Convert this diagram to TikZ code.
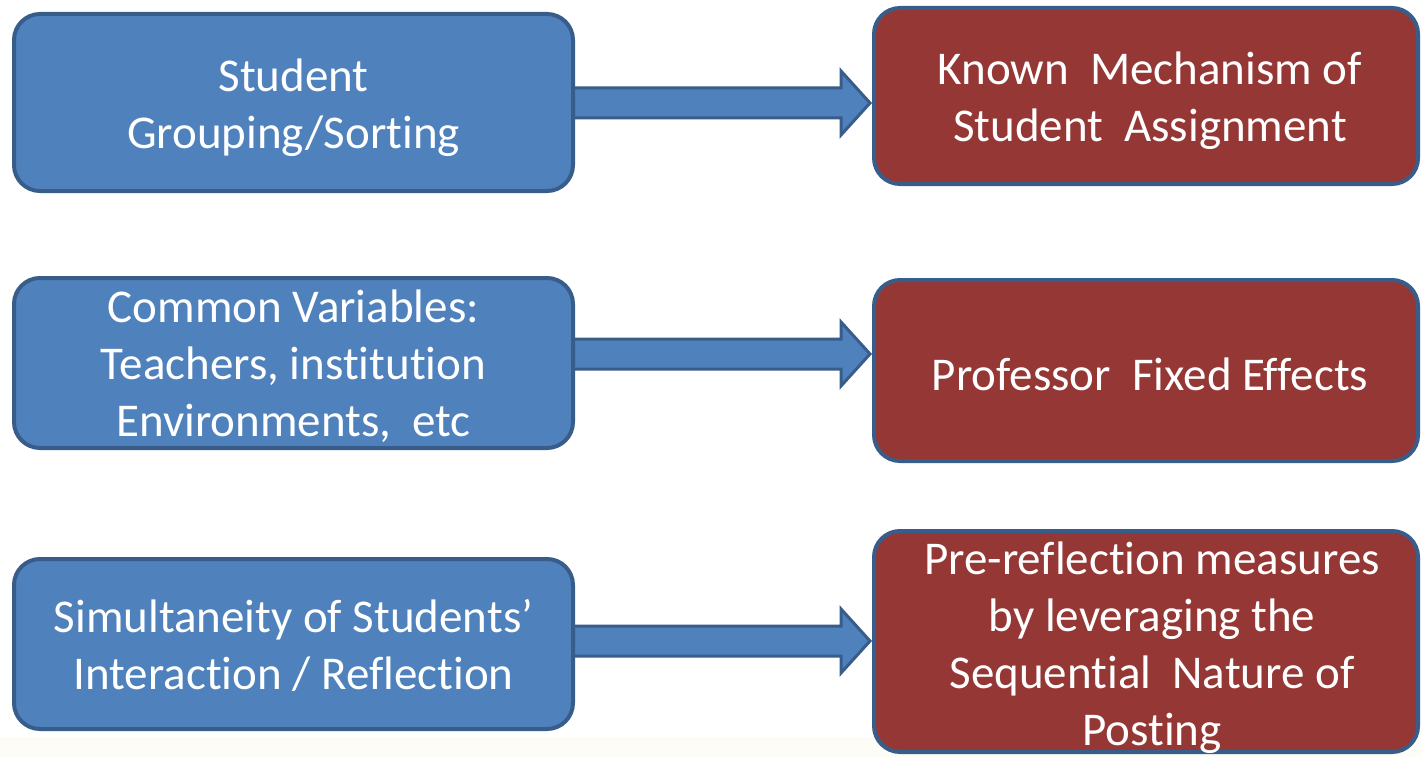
\documentclass[tikz,border=0pt]{standalone}
\usepackage{fontspec}
\setmainfont{Carlito}[RawFeature={-liga;-clig;-dlig;-calt;-rlig}]
\usetikzlibrary{calc,backgrounds}
\definecolor{boxblue}{HTML}{4F81BD}
\definecolor{edgeblue}{HTML}{385D8A}
\definecolor{boxred}{HTML}{953735}
\definecolor{cream}{HTML}{FEFCF6}
\tikzset{
  panel/.style={draw=edgeblue, line width=4pt, rounded corners=26pt, inner sep=0pt},
  causebox/.style={panel, fill=boxblue, minimum width=559pt},
  remedybox/.style={panel, fill=boxred, minimum width=544pt},
  boxtext/.style={text=white, align=center, inner sep=0pt,
    font=\fontsize{47}{57}\selectfont},
  blockarrow/.style={draw=edgeblue, fill=boxblue, line width=3pt, line join=miter},
}
% block arrow from the east side of #1 to the west side of #2 at height #3
\newcommand{\blockarrowdraw}[3]{%
  \path (#1.east |- {0,#3}) coordinate (s) (#2.west |- {0,#3}) coordinate (e);
  \draw[blockarrow] ($(s)+(-10,-15)$) -- ($(e)+(-31,-15)$) -- ($(e)+(-31,-32)$)
    -- ($(e)+(-2,0)$) -- ($(e)+(-31,32)$) -- ($(e)+(-31,15)$) -- ($(s)+(-10,15)$) -- cycle;}
\begin{document}
\begin{tikzpicture}[x=1pt, y=-1pt]
\useasboundingbox (0,0) rectangle (1421,757);

% causes (left column)
\node[causebox, minimum height=177pt] (L1) at (293.5,102.5) {};
\node[causebox, minimum height=170pt] (L2) at (293.5,363) {};
\node[causebox, minimum height=170pt] (L3) at (293.5,644) {};

% remedies (right column)
\node[remedybox, minimum height=176pt] (R1) at (1146,96) {};
\node[remedybox, minimum height=181pt] (R2) at (1146,370.5) {};
\node[remedybox, minimum height=221pt] (R3) at (1146,641.5) {};

% page ground and arrows, behind the boxes
\begin{scope}[on background layer]
  \fill[white] (0,0) rectangle (1421,757);
  \fill[cream] (0,737) rectangle (1421,757);
  \blockarrowdraw{L1}{R1}{103}
  \blockarrowdraw{L2}{R2}{354}
  \blockarrowdraw{L3}{R3}{641}
\end{scope}

% texts
\node[boxtext] (L1t) at (293.5,108) {Student\\Grouping/Sorting};
\node[boxtext] (L2t) at (293.5,366) {Common Variables:\\Teachers, institution\\Environments,\ \ etc};
\node[boxtext] (L3t) at (293.5,645) {Simultaneity of Students’\\Interaction / Reflection};
\node[boxtext] (R1t) at (1150,101) {Known\ \ Mechanism of\\Student\ \ Assignment};
\node[boxtext] (R2t) at (1150,374) {Professor\ \ Fixed Effects};
\node[boxtext] (R3t) at (1152,648) {Pre-reflection measures\\by leveraging the\\Sequential\ \ Nature of\\Posting};
\end{tikzpicture}
\end{document}
